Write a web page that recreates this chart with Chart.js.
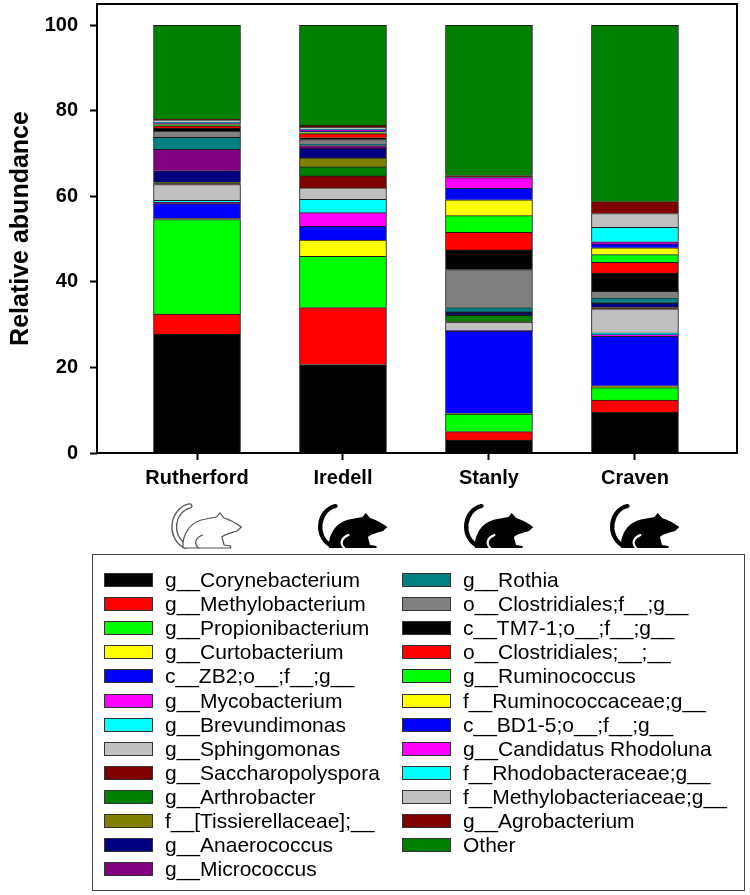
<!DOCTYPE html>
<html>
<head>
<meta charset="utf-8">
<script src="https://cdn.jsdelivr.net/npm/chart.js@4/dist/chart.umd.min.js"></script>
<style>
  body { margin: 0; background: #fff; }
  #page { position: relative; width: 750px; height: 895px; font-family: "Liberation Sans", Arial, sans-serif; }
  #plot { position: absolute; left: 0; top: 0; width: 750px; height: 555px; }
  #legend { position: absolute; left: 92px; top: 554px; width: 651px; height: 335px; border: 1.5px solid #444; }
  .item { position: absolute; height: 24px; display: flex; align-items: center; font-size: 21px; color: #000; white-space: nowrap; }
  .sw { width: 47px; height: 12px; border: 1px solid #333; margin-right: 12px; flex: none; }
</style>
</head>
<body>
<div id="page">
  <div id="plot"><canvas id="chart"></canvas></div>
  <div id="legend"></div>
</div>
<script>
const categories = ["Rutherford", "Iredell", "Stanly", "Craven"];
const yTicks = [0, 20, 40, 60, 80, 100];

const taxa = [
  "g__Corynebacterium", "g__Methylobacterium", "g__Propionibacterium", "g__Curtobacterium",
  "c__ZB2;o__;f__;g__", "g__Mycobacterium", "g__Brevundimonas", "g__Sphingomonas",
  "g__Saccharopolyspora", "g__Arthrobacter", "f__[Tissierellaceae];__", "g__Anaerococcus",
  "g__Micrococcus", "g__Rothia", "o__Clostridiales;f__;g__", "c__TM7-1;o__;f__;g__",
  "o__Clostridiales;__;__", "g__Ruminococcus", "f__Ruminococcaceae;g__", "c__BD1-5;o__;f__;g__",
  "g__Candidatus Rhodoluna", "f__Rhodobacteraceae;g__", "f__Methylobacteriaceae;g__",
  "g__Agrobacterium", "Other"
];

const colors = [
  "#000000", "#ff0000", "#00ff00", "#ffff00", "#0000ff", "#ff00ff", "#00ffff", "#c0c0c0",
  "#800000", "#008000", "#808000", "#000080", "#800080", "#008080", "#808080", "#000000",
  "#ff0000", "#00ff00", "#ffff00", "#0000ff", "#ff00ff", "#00ffff", "#c0c0c0", "#800000",
  "#008000"
];

// relative abundance (%) per site, same order as taxa
const rutherford = [27.8, 4.7, 22.1, 0.2, 3.5, 0.3, 0.5, 3.7, 0.2, 0.2, 0.1, 2.7, 5.0, 2.8, 1.5, 0.7, 0.5, 0.2, 0.1, 0.2, 0.1, 0.2, 0.6, 0.2, 21.9];
const iredell    = [20.7, 13.3, 12.0, 3.8, 3.2, 3.2, 3.1, 2.7, 2.8, 2.1, 2.1, 2.3, 0.6, 0.4, 1.0, 0.4, 1.0, 0.2, 0.2, 0.2, 0.2, 0.2, 0.5, 0.4, 23.4];
const stanly     = [3.0, 2.0, 4.1, 0.1, 19.3, 0.1, 0.1, 1.9, 0.1, 1.5, 0.1, 0.6, 0.1, 1.0, 8.9, 4.6, 4.1, 3.9, 3.7, 2.7, 2.5, 0.1, 0.1, 0.3, 35.1];
const craven     = [9.5, 2.9, 2.9, 0.4, 11.6, 0.4, 0.4, 5.6, 0.1, 0.1, 0.1, 1.0, 0.1, 1.2, 1.5, 4.3, 2.5, 1.8, 1.6, 0.9, 0.5, 3.4, 3.2, 2.8, 41.2];
const sites = [rutherford, iredell, stanly, craven];

const font = "'Liberation Sans', Arial, sans-serif";

// little mouse silhouettes under the site names
function drawMouse(ctx, x, y, outline) {
  ctx.save();
  ctx.translate(x, y);
  ctx.scale(1.08, 1);
  ctx.lineCap = "round";
  const tail = () => {
    ctx.beginPath();
    ctx.moveTo(19, 2);
    ctx.bezierCurveTo(3, 6, -1, 32, 15, 42);
  };
  const body = () => {
    ctx.beginPath();
    ctx.moveTo(13, 44);
    ctx.bezierCurveTo(12, 30, 20, 17, 34, 15);
    ctx.lineTo(44, 13);
    ctx.lineTo(47, 9);
    ctx.lineTo(51, 14);
    ctx.bezierCurveTo(57, 16, 62, 19, 67, 23);
    ctx.lineTo(63, 27);
    ctx.bezierCurveTo(57, 29, 52, 30, 49, 33);
    ctx.lineTo(51, 41);
    ctx.lineTo(57, 42);
    ctx.lineTo(57, 44);
    ctx.closePath();
  };
  const leg = () => {
    ctx.beginPath();
    ctx.moveTo(27, 44);
    ctx.bezierCurveTo(22, 38, 26, 33, 31, 31);
  };
  if (outline) {
    tail(); ctx.strokeStyle = "#555"; ctx.lineWidth = 5.5; ctx.stroke();
    tail(); ctx.strokeStyle = "#fff"; ctx.lineWidth = 3; ctx.stroke();
    body(); ctx.fillStyle = "#fff"; ctx.fill();
    ctx.strokeStyle = "#555"; ctx.lineWidth = 1.2; ctx.stroke();
    leg(); ctx.stroke();
  } else {
    tail(); ctx.strokeStyle = "#000"; ctx.lineWidth = 4; ctx.stroke();
    body(); ctx.fillStyle = "#000"; ctx.fill();
    leg(); ctx.strokeStyle = "#fff"; ctx.lineWidth = 2; ctx.stroke();
  }
  ctx.restore();
}

const framePlugin = {
  id: "frame",
  afterDatasetsDraw(chart) {
    const { ctx, chartArea: a } = chart;
    ctx.save();
    ctx.strokeStyle = "#000";
    ctx.lineWidth = 2;
    ctx.strokeRect(a.left, a.top, a.right - a.left, a.bottom - a.top);
    ctx.restore();
  },
  afterDraw(chart) {
    const xs = chart.scales.x;
    categories.forEach((c, i) => {
      drawMouse(chart.ctx, xs.getPixelForValue(i) - 28, 504, i === 0);
    });
  }
};

new Chart(document.getElementById("chart"), {
  type: "bar",
  data: {
    datasets: taxa.map((name, k) => ({
      label: name,
      data: sites.map((s, i) => ({ x: i, y: s[k] })),
      backgroundColor: colors[k],
      borderColor: "#1a1a1a",
      borderWidth: 1,
      barThickness: 87,
    })),
  },
  plugins: [framePlugin],
  options: {
    responsive: true,
    maintainAspectRatio: false,
    animation: false,
    layout: { padding: { top: 4, right: 13, left: 0, bottom: 0 } },
    plugins: {
      legend: { display: false },
      tooltip: { enabled: false },
    },
    scales: {
      x: {
        type: "linear",
        stacked: true,
        offset: false,
        min: -0.685,
        max: 3.699,
        afterBuildTicks: (s) => { s.ticks = categories.map((c, i) => ({ value: i })); },
        afterFit: (s) => { s.height = 102; s.paddingLeft = 0; s.paddingRight = 0; },
        ticks: {
          callback: (v) => categories[v],
          autoSkip: false,
          maxRotation: 0,
          color: "#000",
          padding: 6,
          font: { family: font, size: 20, weight: "bold" },
        },
        grid: { offset: false, drawOnChartArea: false, tickLength: 7, tickWidth: 2, tickColor: "#000" },
        border: { display: false },
      },
      y: {
        stacked: true,
        min: 0,
        max: 105,
        afterBuildTicks: (s) => { s.ticks = yTicks.map((v) => ({ value: v })); },
        afterFit: (s) => { s.width = 97; s.paddingTop = 0; s.paddingBottom = 0; },
        ticks: {
          color: "#000",
          padding: 12,
          font: { family: font, size: 20, weight: "bold" },
        },
        grid: { drawOnChartArea: false, tickLength: 7, tickWidth: 2, tickColor: "#000" },
        border: { display: false },
        title: {
          display: true,
          text: "Relative abundance",
          color: "#000",
          padding: { top: 6, bottom: 0 },
          font: { family: font, size: 25, weight: "bold" },
        },
      },
    },
  },
});

// legend box, two columns
const legend = document.getElementById("legend");
taxa.forEach((name, k) => {
  const col = k < 13 ? 0 : 1;
  const row = k < 13 ? k : k - 13;
  const el = document.createElement("div");
  el.className = "item";
  el.style.left = (col === 0 ? 11 : 309) + "px";
  el.style.top = (13 + row * 24.1) + "px";
  const sw = document.createElement("span");
  sw.className = "sw";
  sw.style.background = colors[k];
  const txt = document.createElement("span");
  txt.textContent = name;
  el.appendChild(sw);
  el.appendChild(txt);
  legend.appendChild(el);
});
</script>
</body>
</html>
